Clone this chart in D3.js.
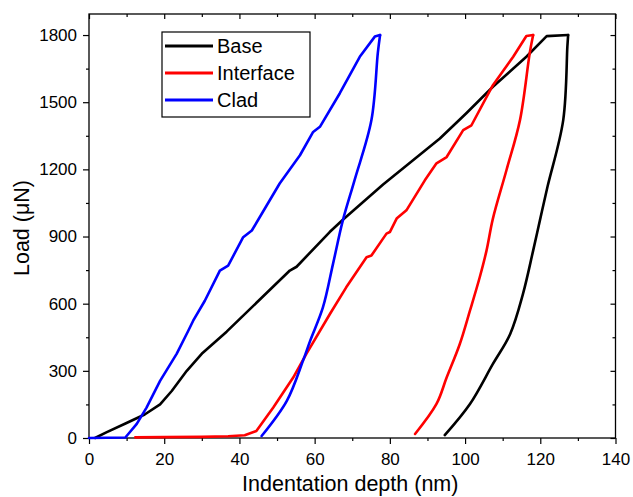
<!DOCTYPE html>
<html>
<head>
<meta charset="utf-8">
<script src="https://cdn.jsdelivr.net/npm/d3@7"></script>
<style>
  body { margin: 0; background: #fff; }
  text { font-family: Arial, "Liberation Sans", sans-serif; fill: #000; }
</style>
</head>
<body>
<svg id="chart" width="633" height="497"></svg>
<script>
// values (depth in nm, load in uN)
const seriesNames = ["Base", "Interface", "Clad"];
const seriesColors = ["#000000", "#ff0000", "#0000ff"];

const baseDepth = [1.6, 4.6, 9.7, 14.8, 18.9, 22, 26, 30.2, 36.6, 45.5, 53.4, 55.2, 64, 67.5, 78.2, 93.3, 100.4, 107.4, 116.3, 121.7, 127.4,
                   127.2, 126.1, 121.9, 119.9, 118.1, 115.4, 112, 107.4, 101.3, 94.6];
const baseLoad  = [0, 25, 65, 105, 150, 210, 300, 380, 475, 620, 748, 765, 920, 975, 1132, 1338, 1452, 1569, 1703, 1795, 1800,
                   1748, 1420, 1121, 972, 837, 644, 465, 331, 152, 13];

const interfaceDepth = [12.3, 20, 30, 37, 41.4, 44.5, 49, 54.3, 57.8, 64.1, 68.4, 73.8, 75.1, 79.1, 80, 81.8, 84.4, 89.3, 92.4, 95.1, 99.5, 101.7, 107.4, 112.8, 116.3, 118.1,
                        117.2, 114.6, 111, 107.4, 105.7, 103.9, 101.3, 98.6, 95.1, 92.4, 86.7];
const interfaceLoad  = [3, 4, 5, 8, 12, 31, 136, 270, 376, 555, 673, 807, 815, 913, 920, 980, 1017, 1151, 1227, 1255, 1375, 1397, 1576, 1703, 1796, 1800,
                        1720, 1420, 1196, 980, 837, 718, 569, 420, 270, 152, 18];

const cladDepth = [0, 9.7, 10, 12.7, 15.3, 18.9, 23.3, 26.4, 27.7, 30.8, 34.8, 37, 41, 43.3, 50.7, 56.1, 59.6, 61.4, 66.7, 72, 76, 77.4,
                   76.8, 75.1, 70.6, 67.5, 64.9, 62.2, 58.8, 56.9, 52.6, 45.9];
const cladLoad  = [0, 2, 9, 63, 136, 255, 376, 479, 524, 613, 748, 770, 897, 927, 1137, 1263, 1367, 1390, 1540, 1703, 1793, 1800,
                   1720, 1420, 1151, 972, 779, 583, 434, 345, 166, 9];

const xTicks = [0, 20, 40, 60, 80, 100, 120, 140];
const yTicks = [0, 300, 600, 900, 1200, 1500, 1800];

const depthSets = [baseDepth, interfaceDepth, cladDepth];
const loadSets = [baseLoad, interfaceLoad, cladLoad];

const margin = { top: 14, right: 17.5, bottom: 59, left: 89 };
const width = 633 - margin.left - margin.right;
const height = 497 - margin.top - margin.bottom;

const svg = d3.select("#chart");
const g = svg.append("g").attr("transform", `translate(${margin.left},${margin.top})`);

const x = d3.scaleLinear().domain([0, 140]).range([0, width]);
const y = d3.scaleLinear().domain([0, 1894]).range([height, 0]);

const xMinor = d3.range(10, 140, 20);
const yMinor = d3.range(150, 1894, 300);

function styleAxis(sel) {
  sel.select(".domain").remove();
  sel.selectAll("line").attr("stroke", "#000").attr("stroke-width", 1.2);
  sel.selectAll("text").style("font-size", "17px");
}

// major + minor ticks, outward on bottom/left
g.append("g").attr("transform", `translate(0,${height})`)
  .call(d3.axisBottom(x).tickValues(xTicks).tickSize(6).tickPadding(9).tickFormat(d3.format("d")))
  .call(styleAxis);
g.append("g").attr("transform", `translate(0,${height})`)
  .call(d3.axisBottom(x).tickValues(xMinor).tickSize(3).tickFormat(""))
  .call(styleAxis);
g.append("g")
  .call(d3.axisLeft(y).tickValues(yTicks).tickSize(6).tickPadding(6).tickFormat(d3.format("d")))
  .call(styleAxis);
g.append("g")
  .call(d3.axisLeft(y).tickValues(yMinor).tickSize(3).tickFormat(""))
  .call(styleAxis);

// mirror ticks, inward on top/right
g.append("g")
  .call(d3.axisTop(x).tickValues(xTicks).tickSize(-5).tickFormat(""))
  .call(styleAxis);
g.append("g")
  .call(d3.axisTop(x).tickValues(xMinor).tickSize(-3).tickFormat(""))
  .call(styleAxis);
g.append("g").attr("transform", `translate(${width},0)`)
  .call(d3.axisRight(y).tickValues(yTicks).tickSize(-5).tickFormat(""))
  .call(styleAxis);
g.append("g").attr("transform", `translate(${width},0)`)
  .call(d3.axisRight(y).tickValues(yMinor).tickSize(-3).tickFormat(""))
  .call(styleAxis);

// frame
g.append("rect")
  .attr("width", width).attr("height", height)
  .attr("fill", "none").attr("stroke", "#000").attr("stroke-width", 1.3);

// curves: loading branch straight segments, unloading branch smoothed
const loadLine = d3.line().x(d => x(d[0])).y(d => y(d[1]));
const unloadLine = d3.line().x(d => x(d[0])).y(d => y(d[1]))
  .curve(d3.curveCatmullRom.alpha(0.5));
seriesNames.forEach((name, i) => {
  const pts = depthSets[i].map((d, j) => [d, loadSets[i][j]]);
  const peak = pts.map(p => p[1]).lastIndexOf(1800);
  [[pts.slice(0, peak + 1), loadLine], [pts.slice(peak), unloadLine]].forEach(([b, gen]) => {
    g.append("path")
      .datum(b)
      .attr("d", gen)
      .attr("fill", "none")
      .attr("stroke", seriesColors[i])
      .attr("stroke-width", 2.6)
      .attr("stroke-linejoin", "round")
      .attr("stroke-linecap", "round");
  });
});

// axis titles
svg.append("text")
  .attr("x", margin.left + width / 2 - 2).attr("y", 491)
  .attr("text-anchor", "middle")
  .style("font-size", "21.5px")
  .text("Indentation depth (nm)");
svg.append("text")
  .attr("transform", `translate(29,${margin.top + height / 2 + 2}) rotate(-90)`)
  .attr("text-anchor", "middle")
  .style("font-size", "21.5px")
  .text("Load (\u03bcN)");

// legend
const legend = svg.append("g").attr("transform", "translate(162,32)");
legend.append("rect")
  .attr("width", 148).attr("height", 85)
  .attr("fill", "#fff").attr("stroke", "#000").attr("stroke-width", 1.2);
seriesNames.forEach((name, i) => {
  const ly = 14 + i * 27;
  legend.append("line")
    .attr("x1", 3).attr("x2", 51).attr("y1", ly).attr("y2", ly)
    .attr("stroke", seriesColors[i]).attr("stroke-width", 3);
  legend.append("text")
    .attr("x", 55).attr("y", ly).attr("dy", "0.35em")
    .style("font-size", "20px")
    .text(name);
});
</script>
</body>
</html>
